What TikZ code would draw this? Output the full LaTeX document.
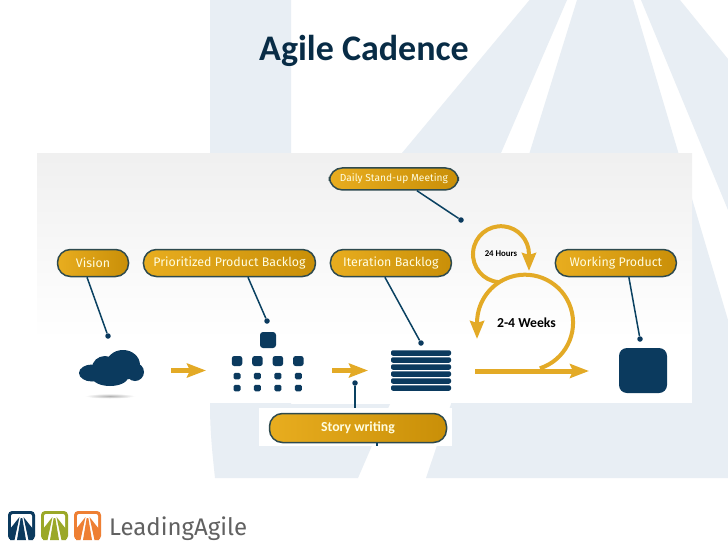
\documentclass[tikz,border=0pt]{standalone}
\usepackage{fontspec}
\setmainfont{Carlito}
\newfontfamily\pillfont{Fira Sans}
\usepackage{tikz}
\usetikzlibrary{arrows.meta}
\definecolor{navy}{HTML}{0B3A5E}
\definecolor{gold}{HTML}{E3AA26}
\definecolor{goldl}{HTML}{E8AD1F}
\definecolor{goldr}{HTML}{C98F08}
\definecolor{rim}{HTML}{2E4A4E}
\definecolor{wash}{HTML}{E8EEF4}
\definecolor{leaf}{HTML}{9BA828}
\definecolor{ember}{HTML}{EE7F33}
\newcommand{\logomark}[3]{
\fill[#3, rounded corners=4pt] (#1,#2) rectangle ++(27,29);
\fill[white, rounded corners=2pt] (#1+3,#2+3) rectangle ++(21,27);
\fill[#3] (#1+12.7,#2+7) -- (#1+14.3,#2+7) -- (#1+18,#2+29) -- (#1+9,#2+29) -- cycle;
\fill[#3] (#1+11.5,#2+6) -- (#1+6.5,#2+29) -- (#1+2,#2+29) -- (#1+2,#2+18) -- cycle;
\fill[#3] (#1+15.5,#2+6) -- (#1+20.5,#2+29) -- (#1+25,#2+29) -- (#1+25,#2+18) -- cycle;
}

\begin{document}
\begin{tikzpicture}[x=1pt,y=-1pt]
    \tikzstyle{pill} = [rectangle, rounded corners=13pt, minimum height=27pt, inner sep=0pt, text centered, draw=rim, line width=1.5pt, left color=goldl, right color=goldr, text=white!88!yellow, font=\pillfont\fontsize{12.4}{14}\selectfont]
\tikzstyle{dot} = [circle, fill=navy, inner sep=0pt, minimum size=5.5pt]
\tikzstyle{tail} = [line width=1.5pt, draw=navy!90!teal]
\tikzstyle{flow} = [line width=5pt, draw=gold, -{Stealth[length=19pt,width=14pt,inset=3pt]}]
\tikzstyle{loop} = [line width=4pt, draw=gold, -{Stealth[length=18pt,width=14pt,inset=2pt]}]
\tikzstyle{big} = [rectangle, rounded corners=2.5pt, fill=navy, minimum width=10.5pt, minimum height=10pt, inner sep=0pt]
\tikzstyle{small} = [rectangle, rounded corners=1.5pt, fill=navy, minimum width=7pt, minimum height=6.5pt, inner sep=0pt]
\tikzstyle{bar} = [rectangle, rounded corners=2pt, fill=navy, minimum width=60pt, minimum height=5.5pt, inner sep=0pt]
    \useasboundingbox (0,0) rectangle (728,546);
    \fill[white] (0,0) rectangle (728,546);

\fill[wash] (210,0) -- (291,0) -- (291,404) -- (390,404) -- (358,478) -- (215,478) .. controls (212,450) and (210,430) .. (210,404) -- cycle;
\fill[wash] (529.5,0) -- (567,0) -- (501,153) -- (402,153) -- cycle;
\fill[wash] (577,0) -- (633,0) -- (728,320) -- (728,478) -- (426,478) -- (451,404) -- (529.5,153) -- cycle;
\fill[wash] (641,0) -- (680,0) -- (728,59) -- (728,210) -- cycle;

\fill[white] (37,340) rectangle (692,403);
\shade[top color=black!6, bottom color=white] (37,153) rectangle (692,340);

\node (title) at (364,51) {\fontsize{36}{40}\selectfont\bfseries\color{navy!75!black}Agile Cadence};

\node (vision) [pill, minimum width=71pt] at (93,263) {Vision};
\node (product) [pill, minimum width=172pt, right of=vision, xshift=108pt] {Prioritized Product Backlog};
\node (iteration) [pill, minimum width=121pt, right of=product, xshift=133pt] {Iteration Backlog};
\node (working) [pill, minimum width=121pt, right of=iteration, xshift=196.5pt] {Working Product};
\node (daily) [pill, minimum width=129pt, minimum height=22pt, above of=iteration, xshift=3pt, yshift=55.6pt, font=\pillfont\fontsize{10.2}{12}\selectfont] {Daily Stand-up Meeting};

\node (d1) [dot] at (108,336) {};
\node (d2) [dot] at (267,321) {};
\node (d3) [dot] at (421,343) {};
\node (d4) [dot] at (640,339) {};
\node (d5) [dot] at (461,220) {};
\node (d6) [dot] at (355,383) {};
\coordinate (storytail) at (355,408);

\draw[tail] ([xshift=-6pt]vision.south) -- (d1);
\draw[tail] ([xshift=18.5pt]product.south) -- (d2);
\draw[tail] ([xshift=-6pt]iteration.south) -- (d3);
\draw[tail] ([xshift=13pt]working.south) -- (d4);
\draw[tail] ([xshift=23pt]daily.south) -- (d5);
\draw[tail] (d6) -- (storytail);

\fill[white] (259,408) rectangle (452,446);
\coordinate (sticktail) at (377,446);
\node (story) [pill, minimum width=177pt, minimum height=29pt, font=\fontsize{13.8}{16}\selectfont\bfseries] at (358,428) {Story writing};
\draw[tail] (story.south -| sticktail) -- (sticktail);

\fill[navy] (92,373) ellipse (13pt and 8.5pt);
\fill[navy] (105,368) ellipse (13pt and 12pt);
\fill[navy] (123,365) ellipse (17pt and 15pt);
\fill[navy] (135,372) ellipse (9pt and 9pt);
\fill[navy] (110,377) ellipse (18pt and 9pt);
\shade[inner color=black!30, outer color=white] (110,396) ellipse (25pt and 2.5pt);

\node (top) [big, minimum width=16pt, minimum height=16pt, rounded corners=3pt] at (268,340) {};
\node (g1) [big] at (237,361) {};
\node (g2) [big, right of=g1, xshift=-8pt] {};
\node (g3) [big, right of=g2, xshift=-8pt] {};
\node (g4) [big, right of=g3, xshift=-8pt] {};
\node (m1) [small] at (237,376) {};
\node (m2) [small, right of=m1, xshift=-8pt] {};
\node (m3) [small, right of=m2, xshift=-8pt] {};
\node (m4) [small, right of=m3, xshift=-8pt] {};
\node (s1) [small] at (237,388) {};
\node (s2) [small, right of=s1, xshift=-8pt] {};
\node (s3) [small, right of=s2, xshift=-8pt] {};
\node (s4) [small, right of=s3, xshift=-8pt] {};

\node (b1) [bar] at (421,353) {};
\node (b2) [bar] at (421,360) {};
\node (b3) [bar] at (421,367) {};
\node (b4) [bar] at (421,374) {};
\node (b5) [bar] at (421,381) {};
\node (b6) [bar] at (421,388) {};

\coordinate (a1) at (171,370.5);
\coordinate (a2) at (206,370.5);
\coordinate (a3) at (332,370.5);
\coordinate (a4) at (368,370.5);
\coordinate (a5) at (475,371);
\coordinate (a6) at (589,371);
\draw[flow] (a1) -- (a2);
\draw[flow] (a3) -- (a4);
\draw[flow] (a5) -- (a6);

\node (weeks) [circle, minimum size=96pt, inner sep=0pt, font=\fontsize{13.7}{16}\selectfont\bfseries] at (525,322.5) {\hspace{3pt}2-4 Weeks};
\node (hours) [circle, minimum size=56pt, inner sep=0pt, font=\fontsize{8.8}{10}\selectfont\bfseries] at (501,254) {24 Hours};
\coordinate (w1) at (477,339);
\coordinate (h1) at (529,271);
\draw[loop] (weeks.-72) arc (-72:180:48pt) -- (w1);
\draw[loop] (hours.-95) arc (265:0:28pt) -- (h1);

\node (done) [rectangle, rounded corners=8pt, fill=navy, minimum width=48pt, minimum height=45pt, inner sep=0pt] at (643,370.5) {};

\logomark{8}{511}{navy}
\logomark{41}{511}{leaf}
\logomark{74}{511}{ember}
\node (brand) [anchor=base west, inner sep=0pt, font=\pillfont\fontsize{24}{28}\selectfont, text=black!62] at (109,535) {LeadingAgile};
  \end{tikzpicture}
\end{document}
